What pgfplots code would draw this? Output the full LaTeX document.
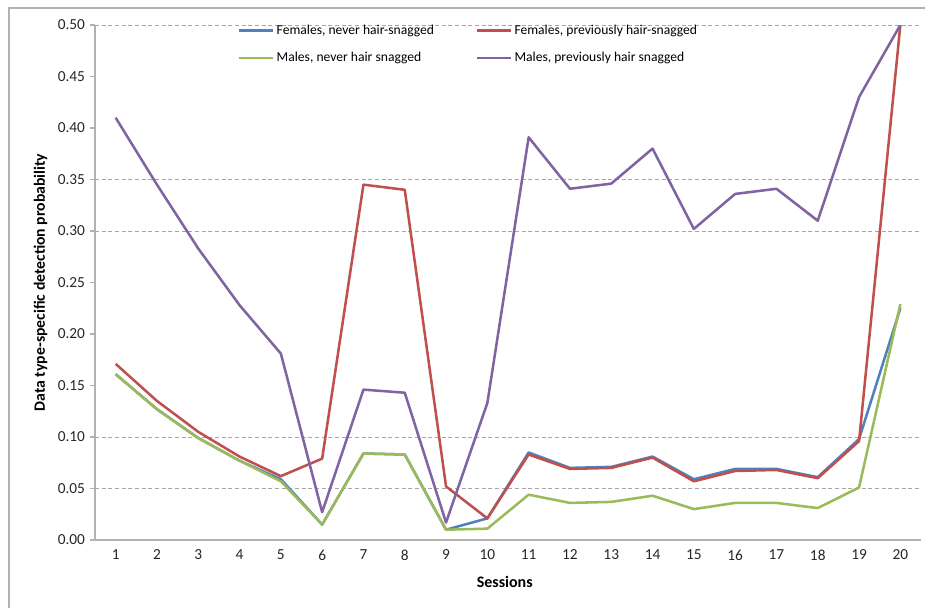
\documentclass[border=0pt]{standalone}
\usepackage{pgfplots}
\pgfplotsset{compat=1.18}
\usepackage{fontspec}
\setmainfont{Carlito}

\definecolor{fnever}{HTML}{4F81BD}
\definecolor{fprev}{HTML}{C0504D}
\definecolor{mnever}{HTML}{9BBB59}
\definecolor{mprev}{HTML}{8064A2}

\pgfplotstableread{
s   fnever  fprev  mnever  mprev
1   0.161   0.171  0.161   0.410
2   0.127   0.135  0.127   0.345
3   0.099   0.105  0.099   0.283
4   0.077   0.081  0.077   0.228
5   0.059   0.062  0.057   0.181
6   0.015   0.079  0.015   0.027
7   0.084   0.345  0.084   0.146
8   0.083   0.340  0.083   0.143
9   0.010   0.052  0.010   0.017
10  0.021   0.021  0.011   0.133
11  0.085   0.083  0.044   0.391
12  0.070   0.069  0.036   0.341
13  0.071   0.070  0.037   0.346
14  0.081   0.080  0.043   0.380
15  0.059   0.057  0.030   0.302
16  0.069   0.067  0.036   0.336
17  0.069   0.068  0.036   0.341
18  0.061   0.060  0.031   0.310
19  0.098   0.096  0.051   0.430
20  0.225   0.500  0.229   0.500
}\detection

\begin{document}
\begin{tikzpicture}
% page outline
\useasboundingbox (0,0) rectangle (693.75pt,456pt);
\draw[gray!60, line width=0.8pt] (6.75pt,0pt) -- (6.75pt,450pt) -- (693.75pt,450pt);
\begin{axis}[
  at={(71.25pt,51pt)}, anchor=south west,
  scale only axis, width=619.5pt, height=386.25pt,
  xmin=0.5, xmax=20.5, ymin=0, ymax=0.5,
  axis x line*=bottom, axis y line*=left,
  axis line style={-, gray!60, line width=0.8pt},
  xtick={1,...,20},
  xtick style={draw=none},
  extra x ticks={0.5,1.5,...,20.5},
  extra x tick labels={},
  extra x tick style={tick style={draw=gray!60, line width=0.8pt}, tick align=outside, major tick length=4pt},
  ytick={0,0.05,...,0.501},
  ytick style={draw=gray!60, line width=0.8pt},
  tick align=outside, major tick length=4pt,
  extra y ticks={0.05,0.10,0.30,0.35,0.50},
  extra y tick labels={},
  extra y tick style={grid=major, major grid style={densely dashed, gray!70, line width=0.6pt}},
  yticklabel style={/pgf/number format/.cd, fixed, fixed zerofill, precision=2},
  /pgf/number format/assume math mode=true,
  tick label style={font=\fontsize{11.5}{13}\selectfont, text=black!85},
  xlabel={Sessions}, ylabel={Data type-specific detection probability},
  every axis x label/.style={at={(axis description cs:0.496,-0.0816)}, anchor=center, font=\bfseries\fontsize{12}{14}\selectfont},
  every axis y label/.style={at={(axis description cs:-0.066,0.5)}, rotate=90, anchor=center, font=\bfseries\fontsize{11.8}{14}\selectfont},
  legend columns=2,
  legend cell align=left,
  legend style={draw=none, fill=none, at={(0.173,1.006)}, anchor=north west,
    font=\fontsize{10.2}{12}\selectfont, row sep=8pt, inner sep=0pt,
    /tikz/every even column/.append style={column sep=29.5pt}},
  legend image code/.code={\draw[#1] (0pt,0pt) -- (25pt,0pt);},
  every axis plot/.append style={line width=1.9pt, line join=round},
]
\addplot[fnever] table[x=s, y=fnever] {\detection};
\addplot[fprev] table[x=s, y=fprev] {\detection};
\addplot[mnever] table[x=s, y=mnever] {\detection};
\addplot[mprev] table[x=s, y=mprev] {\detection};
\legend{{Females, never hair-snagged}, {Females, previously hair-snagged}, {Males, never hair snagged}, {Males, previously hair snagged}}
\end{axis}
\end{tikzpicture}
\end{document}
